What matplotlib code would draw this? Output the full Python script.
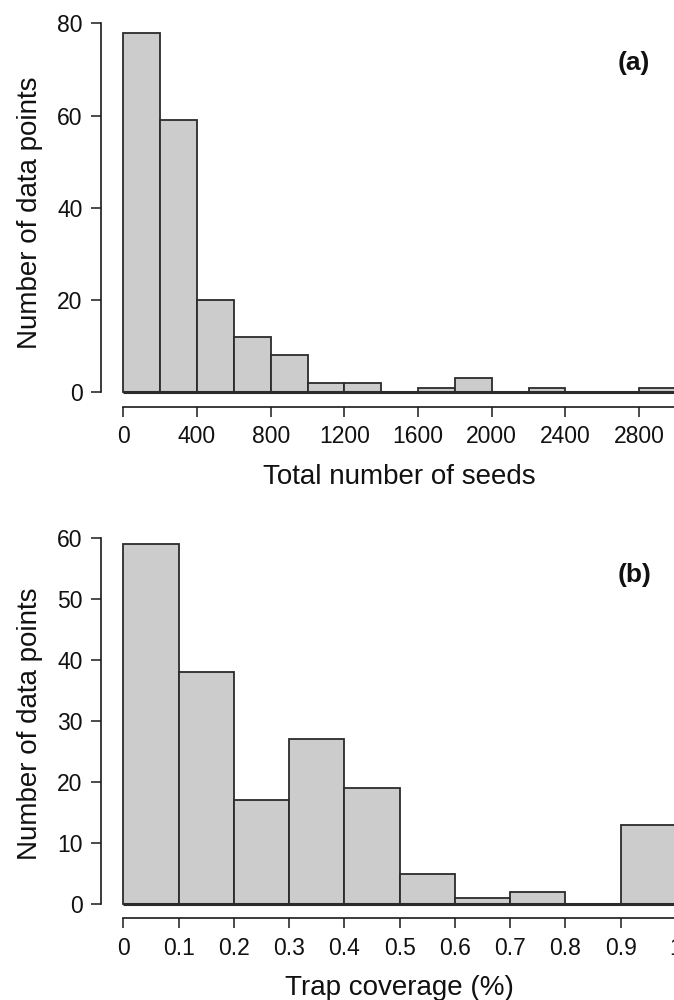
import matplotlib
matplotlib.use("Agg")
import matplotlib.pyplot as plt
import numpy as np

FILL = "#cccccc"
EDGE = "#2b2b2b"
AXIS = "#1a1a1a"

# panel (a): total number of seeds, bins of 200
seed_edges = [0, 200, 400, 600, 800, 1000, 1200, 1400, 1600, 1800,
              2000, 2200, 2400, 2600, 2800, 3000]
seed_counts = [78, 59, 20, 12, 8, 2, 2, 0, 1, 3, 0, 1, 0, 0, 1]
seed_xticks = [0, 400, 800, 1200, 1600, 2000, 2400, 2800]
seed_yticks = [0, 20, 40, 60, 80]

# panel (b): trap coverage, bins of 0.1
cov_edges = [0.0, 0.1, 0.2, 0.3, 0.4, 0.5, 0.6, 0.7, 0.8, 0.9, 1.0]
cov_counts = [59, 38, 17, 27, 19, 5, 1, 2, 0, 13]
cov_xticks = [0, 0.1, 0.2, 0.3, 0.4, 0.5, 0.6, 0.7, 0.8, 0.9, 1]
cov_xlabels = ["0", "0.1", "0.2", "0.3", "0.4", "0.5", "0.6", "0.7", "0.8", "0.9", "1"]
cov_yticks = [0, 10, 20, 30, 40, 50, 60]

plt.rcParams["font.family"] = ["Liberation Sans", "DejaVu Sans"]

W, H = 674, 1000
fig = plt.figure(figsize=(W / 100, H / 100), dpi=100)


def r_hist(ax, edges, counts, xticks, xlabels, yticks, xlabel, tag):
    edges = np.asarray(edges, dtype=float)
    counts = np.asarray(counts, dtype=float)
    ax.bar(edges[:-1], counts, width=np.diff(edges), align="edge",
           color=FILL, edgecolor=EDGE, linewidth=1.3, zorder=2)
    ax.hlines(0, edges[0], edges[-1], color=EDGE, linewidth=2.2, zorder=3)

    # R style: 4% padding around data range
    xr = edges[-1] - edges[0]
    yr = counts.max()
    ax.set_xlim(edges[0] - 0.04 * xr, edges[-1] + 0.04 * xr)
    ax.set_ylim(-0.04 * yr, yr * 1.04)

    for s in ("top", "right"):
        ax.spines[s].set_visible(False)
    ax.spines["left"].set_bounds(yticks[0], yticks[-1])
    ax.spines["bottom"].set_bounds(xticks[0], edges[-1])
    for s in ("left", "bottom"):
        ax.spines[s].set_color(AXIS)
        ax.spines[s].set_linewidth(1.2)

    ax.set_xticks(xticks)
    ax.set_xticklabels(xlabels)
    ax.set_yticks(yticks)
    ax.tick_params(direction="out", length=7.5, width=1.1, color=AXIS,
                   labelsize=16.5, pad=6, labelcolor="#111111")
    ax.set_xlabel(xlabel, fontsize=20, labelpad=11, color="#111111")
    ax.set_ylabel("Number of data points", fontsize=20, labelpad=10,
                  color="#111111")
    ax.text(0.893, 0.885, tag, transform=ax.transAxes, fontsize=19,
            fontweight="bold", ha="center", va="center", color="#111111")


# axes spans in pixels (right part runs past the edge)
left, right = 101.2, 698.0
ax_a = fig.add_axes([left / W, 1 - 406.7 / H, (right - left) / W, 388.4 / H])
r_hist(ax_a, seed_edges, seed_counts, seed_xticks,
       [str(v) for v in seed_xticks], seed_yticks,
       "Total number of seeds", "(a)")

ax_b = fig.add_axes([left / W, 1 - 918.4 / H, (right - left) / W, 388.4 / H])
r_hist(ax_b, cov_edges, cov_counts, cov_xticks, cov_xlabels, cov_yticks,
       "Trap coverage (%)", "(b)")

fig.savefig("out.png", dpi=100, facecolor="white")
